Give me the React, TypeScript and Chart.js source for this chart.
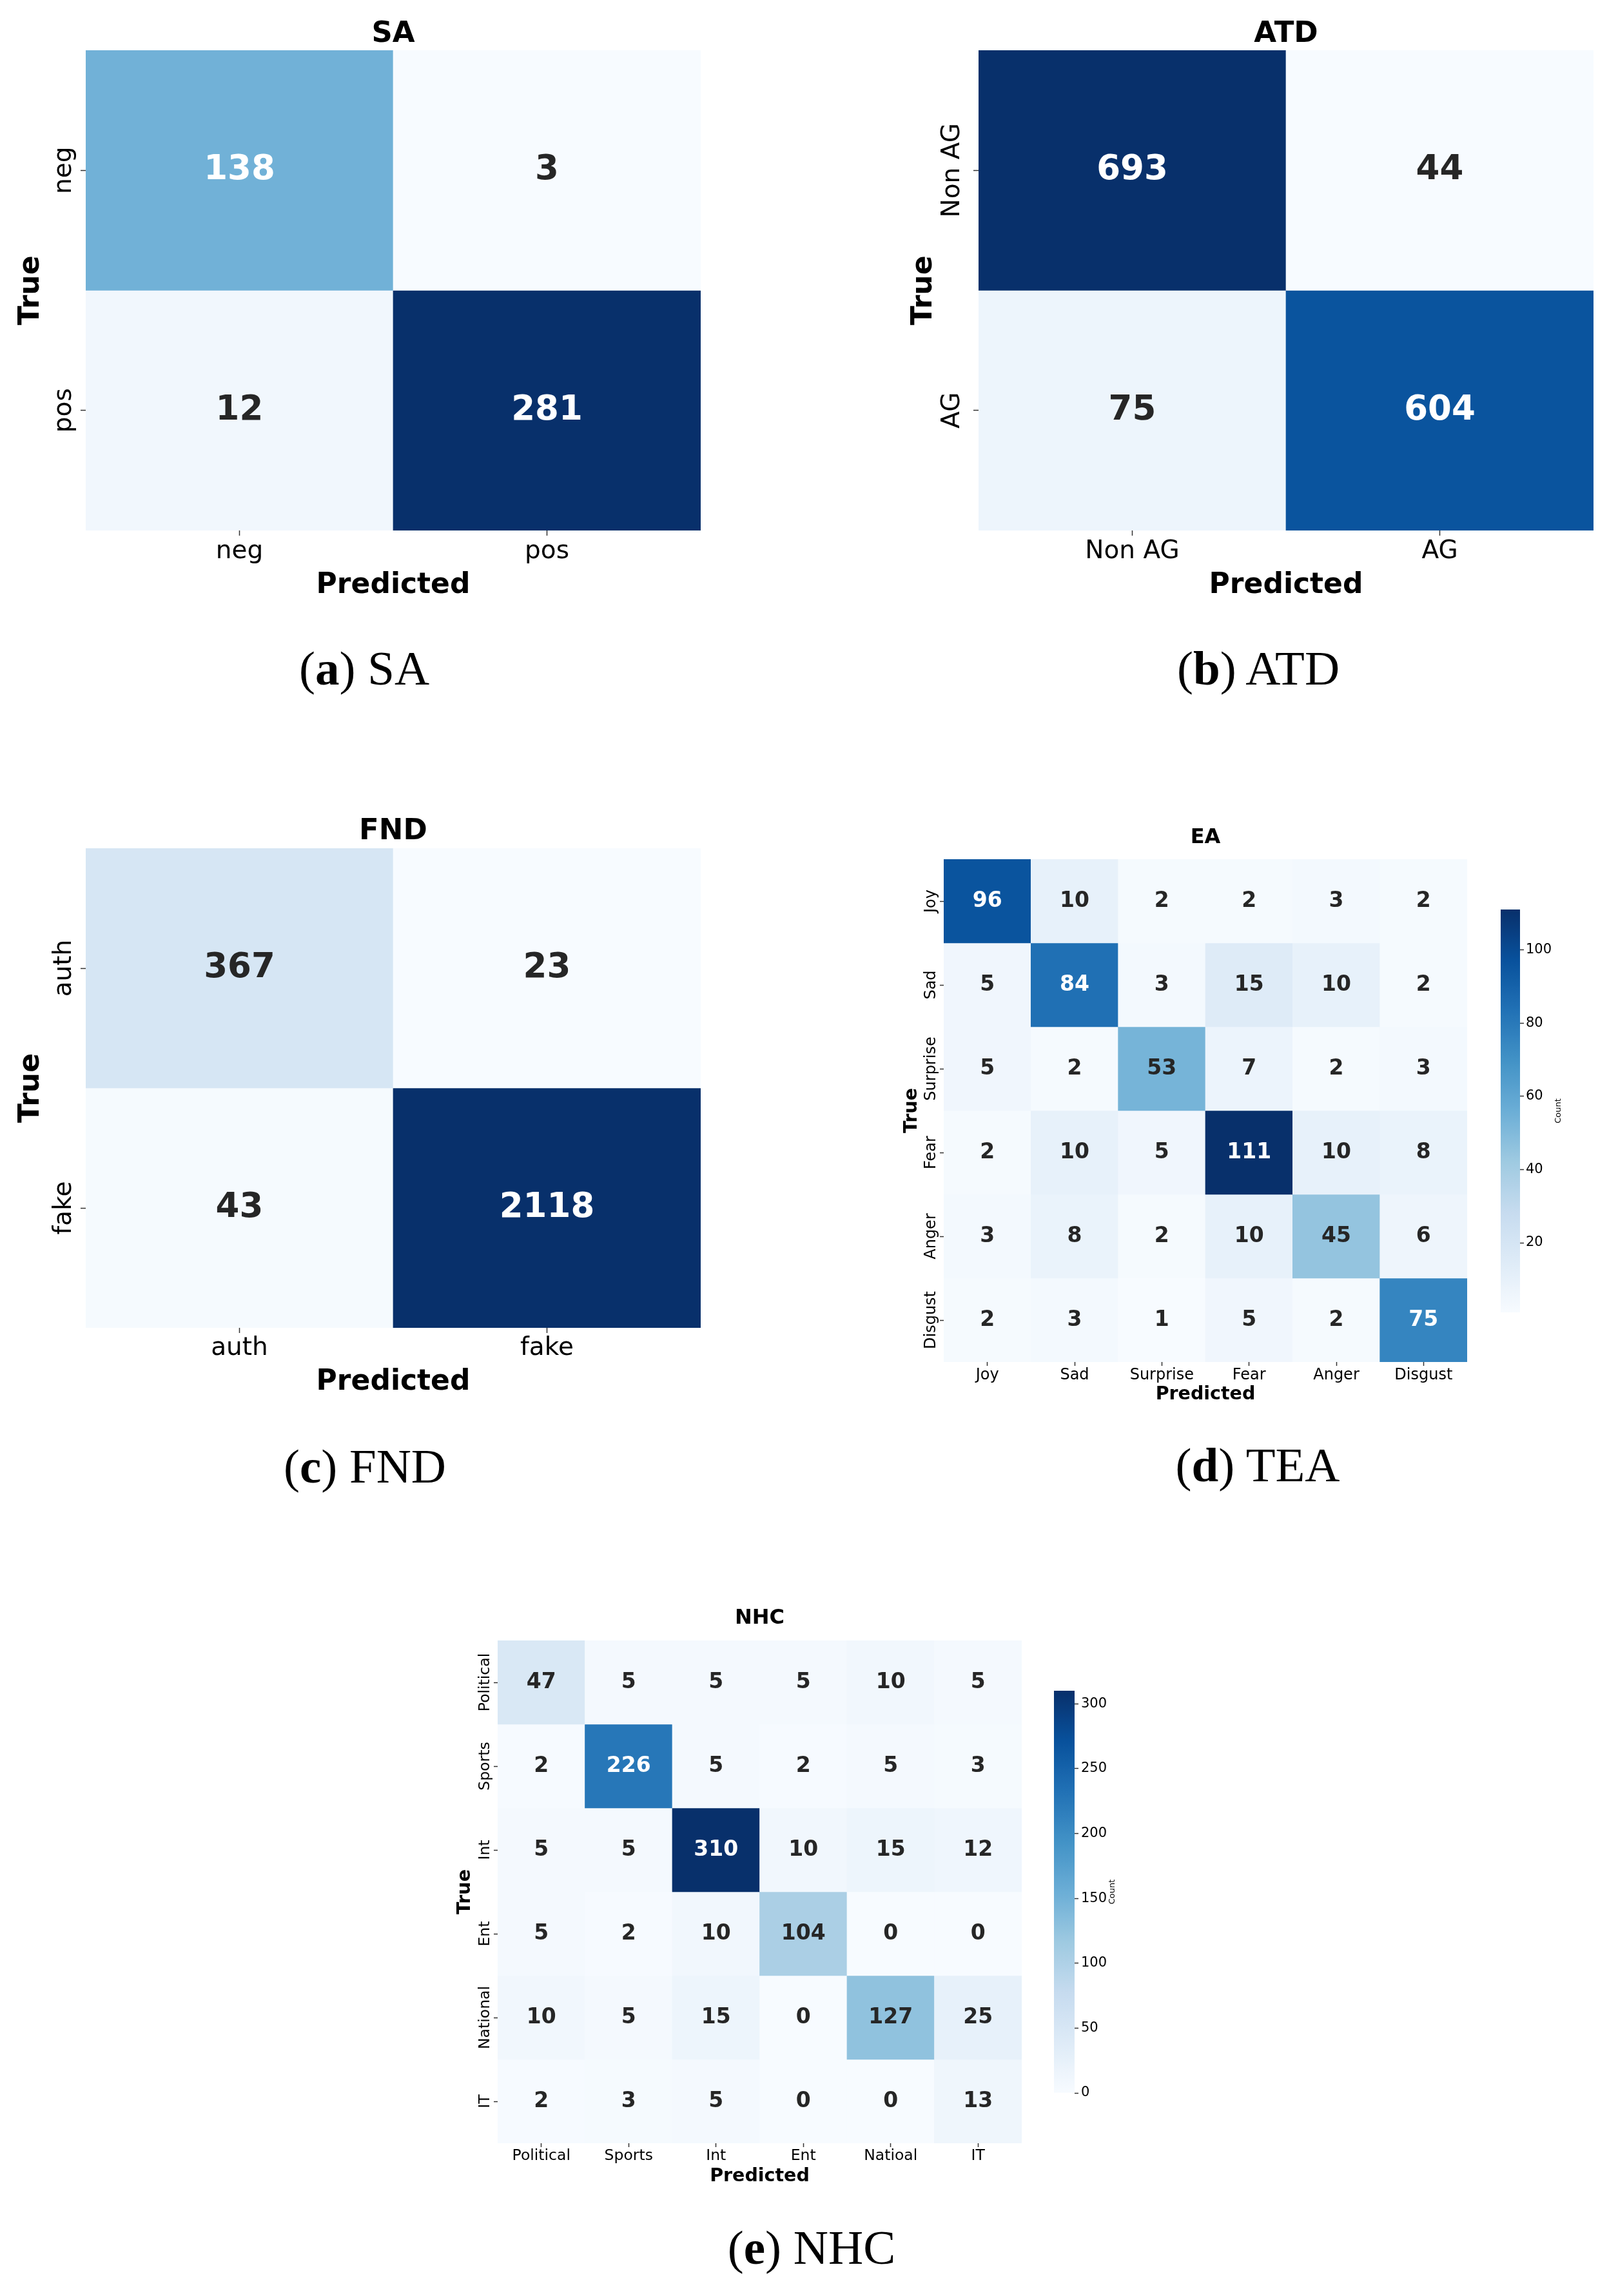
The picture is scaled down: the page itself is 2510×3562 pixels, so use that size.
import React, { useEffect, useRef } from 'react';
import { Chart, registerables } from 'chart.js';

Chart.register(...registerables);

// ---------------- data ----------------
const SA_LABELS = ['neg', 'pos'];
const SA_VALUES = [
  [138, 3],
  [12, 281],
];

const ATD_LABELS = ['Non AG', 'AG'];
const ATD_VALUES = [
  [693, 44],
  [75, 604],
];

const FND_LABELS = ['auth', 'fake'];
const FND_VALUES = [
  [367, 23],
  [43, 2118],
];

const EA_LABELS = ['Joy', 'Sad', 'Surprise', 'Fear', 'Anger', 'Disgust'];
const EA_VALUES = [
  [96, 10, 2, 2, 3, 2],
  [5, 84, 3, 15, 10, 2],
  [5, 2, 53, 7, 2, 3],
  [2, 10, 5, 111, 10, 8],
  [3, 8, 2, 10, 45, 6],
  [2, 3, 1, 5, 2, 75],
];
const EA_CBAR_TICKS = [20, 40, 60, 80, 100];

const NHC_ROW_LABELS = ['Political', 'Sports', 'Int', 'Ent', 'National', 'IT'];
const NHC_COL_LABELS = ['Political', 'Sports', 'Int', 'Ent', 'Natioal', 'IT'];
const NHC_VALUES = [
  [47, 5, 5, 5, 10, 5],
  [2, 226, 5, 2, 5, 3],
  [5, 5, 310, 10, 15, 12],
  [5, 2, 10, 104, 0, 0],
  [10, 5, 15, 0, 127, 25],
  [2, 3, 5, 0, 0, 13],
];
const NHC_CBAR_TICKS = [0, 50, 100, 150, 200, 250, 300];

// ---------------- colormap (matplotlib "Blues") ----------------
const BLUES: number[][] = [
  [0.96862745, 0.98431373, 1.0],
  [0.87058824, 0.92156863, 0.96862745],
  [0.77647059, 0.85882353, 0.9372549],
  [0.61960784, 0.79215686, 0.88235294],
  [0.41960784, 0.68235294, 0.83921569],
  [0.25882353, 0.57254902, 0.77647059],
  [0.12941176, 0.44313725, 0.70980392],
  [0.03137255, 0.31764706, 0.61176471],
  [0.03137255, 0.18823529, 0.41960784],
];

function blues(t: number): number[] {
  const tt = Math.max(0, Math.min(1, t)) * (BLUES.length - 1);
  const i = Math.min(BLUES.length - 2, Math.floor(tt));
  const f = tt - i;
  return [0, 1, 2].map((k) => BLUES[i][k] + (BLUES[i + 1][k] - BLUES[i][k]) * f);
}
function css(c: number[]): string {
  return `rgb(${Math.round(c[0] * 255)},${Math.round(c[1] * 255)},${Math.round(c[2] * 255)})`;
}
function luminance(c: number[]): number {
  const lin = c.map((v) => (v <= 0.03928 ? v / 12.92 : Math.pow((v + 0.055) / 1.055, 2.4)));
  return 0.2126 * lin[0] + 0.7152 * lin[1] + 0.0722 * lin[2];
}

const FONT = 'DejaVu Sans';

type HeatCfg = {
  rows: string[];
  cols: string[];
  values: number[][];
  title: string;
  left: number;
  top: number;
  hx0: number;
  hy0: number;
  hx1: number;
  hy1: number;
  R: number;
  Bx: number;
  titleY: number;
  titleSize: number;
  xTickY: number;
  tickLen: number;
  tickSize: number;
  xTitleY: number;
  axisSize: number;
  yTitleX: number;
  yTickX: number;
  valueSize: number;
};

function Heatmap({ cfg }: { cfg: HeatCfg }) {
  const ref = useRef<HTMLCanvasElement>(null);
  const L = cfg.hx0 - cfg.left;
  const T = cfg.hy0 - cfg.top;
  const W = L + (cfg.hx1 - cfg.hx0) + cfg.R;
  const H = T + (cfg.hy1 - cfg.hy0) + cfg.Bx;

  useEffect(() => {
    if (!ref.current) return;
    const flat = cfg.values.flat();
    const vmin = Math.min(...flat);
    const vmax = Math.max(...flat);
    const norm = (v: number) => (v - vmin) / (vmax - vmin);
    const n = cfg.rows.length;
    const titlePadTop = Math.max(0, cfg.titleY - cfg.top - 0.5 * cfg.titleSize);
    const titlePadBottom = Math.max(0, T - 1.0 * cfg.titleSize - titlePadTop);
    const tickPad = Math.max(0, cfg.xTickY - cfg.hy1 - cfg.tickLen - 0.6 * cfg.tickSize);
    const xTitlePad = Math.max(0, cfg.hy1 + cfg.Bx - cfg.xTitleY - 0.5 * cfg.axisSize);
    const yTitlePad = Math.max(0, cfg.yTitleX - cfg.left - 0.5 * cfg.axisSize);

    const labelPlugin = {
      id: 'heatLabels',
      afterDraw(chart: any) {
        const ctx = chart.ctx as CanvasRenderingContext2D;
        const xs = chart.scales.x;
        const ys = chart.scales.y;
        ctx.save();
        ctx.textAlign = 'center';
        ctx.textBaseline = 'middle';
        ctx.font = `bold ${cfg.valueSize}px "${FONT}"`;
        cfg.values.forEach((row, r) =>
          row.forEach((v, c) => {
            const col = blues(norm(v));
            ctx.fillStyle = luminance(col) > 0.408 ? '#262626' : '#ffffff';
            ctx.fillText(String(v), xs.getPixelForValue(c), ys.getPixelForValue(r + 0.5));
          })
        );
        ctx.font = `${cfg.tickSize}px "${FONT}"`;
        ctx.fillStyle = '#000000';
        cfg.rows.forEach((lab, r) => {
          ctx.save();
          ctx.translate(cfg.yTickX - cfg.left, ys.getPixelForValue(r + 0.5));
          ctx.rotate(-Math.PI / 2);
          ctx.fillText(lab, 0, 0);
          ctx.restore();
        });
        ctx.restore();
      },
    };

    const gridOpts = {
      display: true,
      offset: false,
      drawOnChartArea: false,
      drawTicks: true,
      tickLength: cfg.tickLen,
      tickWidth: 1.5,
      tickColor: '#333333',
    };

    const chart = new Chart(ref.current, {
      type: 'bar',
      data: {
        labels: cfg.cols,
        datasets: cfg.values.map((row, r) => ({
          label: cfg.rows[r],
          data: row.map(() => [r, r + 1]),
          backgroundColor: row.map((v) => css(blues(norm(v)))),
          borderWidth: 0,
          grouped: false,
          barPercentage: 1,
          categoryPercentage: 1,
        })) as any,
      },
      options: {
        animation: false,
        responsive: false,
        devicePixelRatio: 1,
        layout: { padding: { left: 0, top: 0, right: cfg.R, bottom: 0 } },
        plugins: {
          legend: { display: false },
          tooltip: { enabled: false },
          title: {
            display: true,
            text: cfg.title,
            fullSize: false,
            color: '#000000',
            font: { family: FONT, size: cfg.titleSize, weight: 'bold', lineHeight: 1.0 },
            padding: { top: titlePadTop, bottom: titlePadBottom },
          },
        },
        scales: {
          x: {
            type: 'category',
            offset: true,
            grid: gridOpts,
            border: { display: false },
            ticks: {
              color: '#000000',
              font: { family: FONT, size: cfg.tickSize, lineHeight: 1.2 },
              padding: tickPad,
              maxRotation: 0,
              minRotation: 0,
              autoSkip: false,
            },
            title: {
              display: true,
              text: 'Predicted',
              color: '#000000',
              font: { family: FONT, size: cfg.axisSize, weight: 'bold', lineHeight: 1.0 },
              padding: { top: 0, bottom: xTitlePad },
            },
            afterFit: (s: any) => {
              s.height = cfg.Bx;
            },
          },
          y: {
            type: 'linear',
            min: 0,
            max: n,
            reverse: true,
            afterBuildTicks: (s: any) => {
              s.ticks = cfg.rows.map((_, i) => ({ value: i + 0.5 }));
            },
            ticks: { display: false },
            grid: gridOpts,
            border: { display: false },
            title: {
              display: true,
              text: 'True',
              color: '#000000',
              font: { family: FONT, size: cfg.axisSize, weight: 'bold', lineHeight: 1.0 },
              padding: { top: yTitlePad, bottom: 0 },
            },
            afterFit: (s: any) => {
              s.width = L;
            },
          },
        },
      } as any,
      plugins: [labelPlugin],
    });
    return () => chart.destroy();
  }, []);

  return (
    <canvas
      ref={ref}
      width={W}
      height={H}
      style={{ position: 'absolute', left: cfg.left, top: cfg.top, width: W, height: H, display: 'block' }}
    />
  );
}

type CbarCfg = {
  values: number[][];
  ticks: number[];
  left: number;
  top: number;
  barW: number;
  barH: number;
  width: number;
  pad: number;
  tickLen: number;
  tickPad: number;
  tickSize: number;
  labelX: number;
  labelSize: number;
};

function Colorbar({ cfg }: { cfg: CbarCfg }) {
  const ref = useRef<HTMLCanvasElement>(null);
  const H = cfg.barH + 2 * cfg.pad;
  useEffect(() => {
    if (!ref.current) return;
    const flat = cfg.values.flat();
    const vmin = Math.min(...flat);
    const vmax = Math.max(...flat);
    const labelPlugin = {
      id: 'cbarLabel',
      afterDraw(chart: any) {
        const ctx = chart.ctx as CanvasRenderingContext2D;
        const a = chart.chartArea;
        ctx.save();
        ctx.font = `${cfg.labelSize}px "${FONT}"`;
        ctx.fillStyle = '#000000';
        ctx.textAlign = 'center';
        ctx.textBaseline = 'middle';
        ctx.translate(cfg.labelX - cfg.left, (a.top + a.bottom) / 2);
        ctx.rotate(-Math.PI / 2);
        ctx.fillText('Count', 0, 0);
        ctx.restore();
      },
    };
    const chart = new Chart(ref.current, {
      type: 'bar',
      data: {
        labels: ['Count'],
        datasets: [
          {
            data: [[vmin, vmax]] as any,
            borderWidth: 0,
            barPercentage: 1,
            categoryPercentage: 1,
            backgroundColor: (c: any) => {
              const ch = c.chart;
              const ys = ch.scales && ch.scales.y;
              if (!ys || !ch.chartArea) return css(blues(0.5));
              const y0 = ys.getPixelForValue(vmin);
              const y1 = ys.getPixelForValue(vmax);
              const g = ch.ctx.createLinearGradient(0, y0, 0, y1);
              const steps = 64;
              for (let k = 0; k <= steps; k++) g.addColorStop(k / steps, css(blues(k / steps)));
              return g;
            },
          },
        ],
      },
      options: {
        animation: false,
        responsive: false,
        devicePixelRatio: 1,
        layout: { padding: { left: 0, right: 0, top: cfg.pad, bottom: cfg.pad } },
        plugins: { legend: { display: false }, tooltip: { enabled: false }, title: { display: false } },
        scales: {
          x: { display: false, offset: true },
          y: {
            type: 'linear',
            position: 'right',
            min: vmin,
            max: vmax,
            afterBuildTicks: (s: any) => {
              s.ticks = cfg.ticks.map((v) => ({ value: v }));
            },
            ticks: {
              color: '#000000',
              font: { family: FONT, size: cfg.tickSize },
              padding: cfg.tickPad,
            },
            grid: {
              drawOnChartArea: false,
              drawTicks: true,
              tickLength: cfg.tickLen,
              tickWidth: 1.5,
              tickColor: '#333333',
            },
            border: { display: false },
            afterFit: (s: any) => {
              s.width = cfg.width - cfg.barW;
            },
          },
        },
      } as any,
      plugins: [labelPlugin],
    });
    return () => chart.destroy();
  }, []);
  return (
    <canvas
      ref={ref}
      width={cfg.width}
      height={H}
      style={{ position: 'absolute', left: cfg.left, top: cfg.top, width: cfg.width, height: H, display: 'block' }}
    />
  );
}

function Caption({ letter, text, cx, baseline }: { letter: string; text: string; cx: number; baseline: number }) {
  const size = 75;
  return (
    <div
      style={{
        position: 'absolute',
        left: cx - 300,
        width: 600,
        top: baseline - 63,
        textAlign: 'center',
        fontFamily: '"Liberation Serif", serif',
        fontSize: size,
        lineHeight: `${size}px`,
        color: '#000',
        whiteSpace: 'nowrap',
      }}
    >
      (<b>{letter}</b>) {text}
    </div>
  );
}

const SA_CFG: HeatCfg = {
  rows: SA_LABELS, cols: SA_LABELS, values: SA_VALUES, title: 'SA',
  left: 0, top: 0, hx0: 133, hy0: 78, hx1: 1087, hy1: 823, R: 20, Bx: 120,
  titleY: 53, titleSize: 45, xTickY: 856, tickLen: 8, tickSize: 39,
  xTitleY: 909, axisSize: 44, yTitleX: 49, yTickX: 100, valueSize: 53,
};
const ATD_CFG: HeatCfg = {
  rows: ATD_LABELS, cols: ATD_LABELS, values: ATD_VALUES, title: 'ATD',
  left: 1380, top: 0, hx0: 1518, hy0: 78, hx1: 2472, hy1: 823, R: 30, Bx: 120,
  titleY: 53, titleSize: 45, xTickY: 856, tickLen: 8, tickSize: 39,
  xTitleY: 909, axisSize: 44, yTitleX: 1434, yTickX: 1478, valueSize: 53,
};
const FND_CFG: HeatCfg = {
  rows: FND_LABELS, cols: FND_LABELS, values: FND_VALUES, title: 'FND',
  left: 0, top: 1238, hx0: 133, hy0: 1316, hx1: 1087, hy1: 2060, R: 20, Bx: 120,
  titleY: 1290, titleSize: 45, xTickY: 2092, tickLen: 8, tickSize: 39,
  xTitleY: 2145, axisSize: 44, yTitleX: 49, yTickX: 100, valueSize: 53,
};
const EA_CFG: HeatCfg = {
  rows: EA_LABELS, cols: EA_LABELS, values: EA_VALUES, title: 'EA',
  left: 1390, top: 1273, hx0: 1464, hy0: 1333, hx1: 2276, hy1: 2113, R: 20, Bx: 75,
  titleY: 1300, titleSize: 32, xTickY: 2134, tickLen: 6, tickSize: 24,
  xTitleY: 2164, axisSize: 28.5, yTitleX: 1415, yTickX: 1445, valueSize: 33,
};
const NHC_CFG: HeatCfg = {
  rows: NHC_ROW_LABELS, cols: NHC_COL_LABELS, values: NHC_VALUES, title: 'NHC',
  left: 700, top: 2485, hx0: 772, hy0: 2545, hx1: 1585, hy1: 3325, R: 20, Bx: 75,
  titleY: 2511, titleSize: 32, xTickY: 3345, tickLen: 6, tickSize: 23.5,
  xTitleY: 3377, axisSize: 28.5, yTitleX: 722, yTickX: 753, valueSize: 33,
};
const EA_CBAR: CbarCfg = {
  values: EA_VALUES, ticks: EA_CBAR_TICKS, left: 2328, top: 1391, barW: 30, barH: 625,
  width: 112, pad: 20, tickLen: 6, tickPad: 3, tickSize: 21, labelX: 2418, labelSize: 13,
};
const NHC_CBAR: CbarCfg = {
  values: NHC_VALUES, ticks: NHC_CBAR_TICKS, left: 1635, top: 2603, barW: 32, barH: 624,
  width: 110, pad: 20, tickLen: 6, tickPad: 4, tickSize: 21, labelX: 1726, labelSize: 13,
};

export default function App() {
  return (
    <div style={{ position: 'absolute', left: 0, top: 0, width: 2510, height: 3562, background: '#ffffff', overflow: 'hidden' }}>
      <Heatmap cfg={SA_CFG} />
      <Heatmap cfg={ATD_CFG} />
      <Heatmap cfg={FND_CFG} />
      <Heatmap cfg={EA_CFG} />
      <Heatmap cfg={NHC_CFG} />
      <Colorbar cfg={EA_CBAR} />
      <Colorbar cfg={NHC_CBAR} />
      <Caption letter="a" text="SA" cx={565} baseline={1062} />
      <Caption letter="b" text="ATD" cx={1952} baseline={1062} />
      <Caption letter="c" text="FND" cx={566} baseline={2300} />
      <Caption letter="d" text="TEA" cx={1951} baseline={2298} />
      <Caption letter="e" text="NHC" cx={1259} baseline={3512} />
    </div>
  );
}
